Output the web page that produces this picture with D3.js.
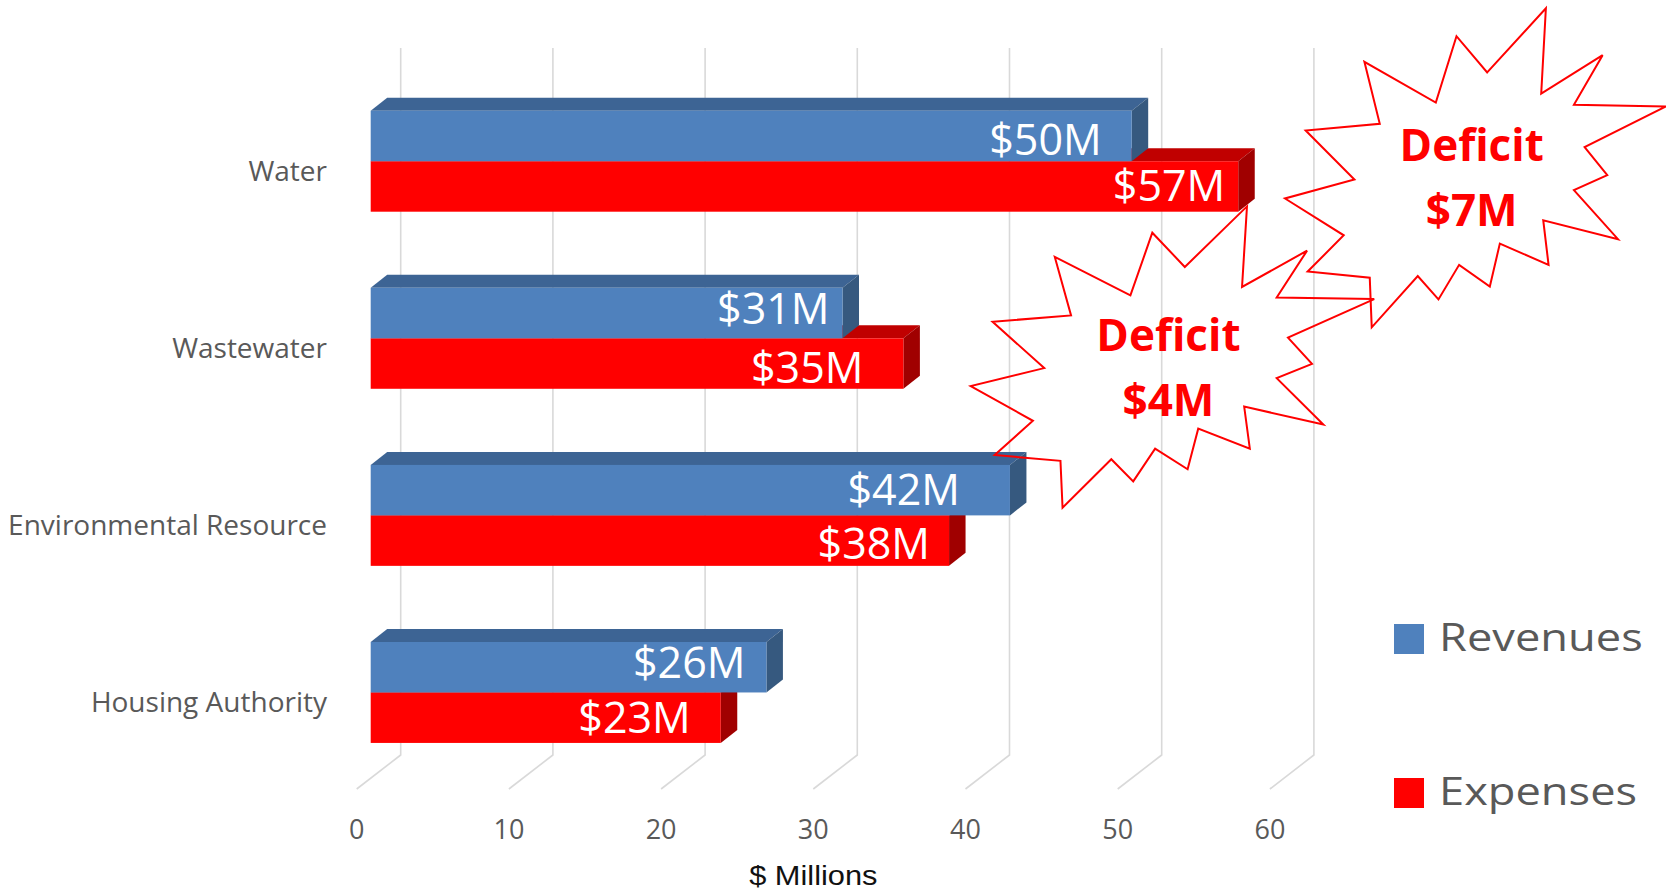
<!DOCTYPE html>
<html lang="en">
<head>
  <meta charset="UTF-8">
  <title>Revenues vs Expenses</title>
  <script src="https://d3js.org/d3.v7.min.js"></script>
  <style>
    body { margin: 0; background: #fff; }
    svg { display: block; }
    text { font-family: "Open Sans", sans-serif; }
  </style>
</head>
<body>
  <svg width="1666" height="892"></svg>

  <script>
    // chart data
    const categories = ["Water", "Wastewater", "Environmental Resource", "Housing Authority"];
    const seriesNames = ["Revenues", "Expenses"];
    const revenues = [50, 31, 42, 26];
    const expenses = [57, 35, 38, 23];
    const xTicks = [0, 10, 20, 30, 40, 50, 60];
    const deficitCats = ["Wastewater", "Water"];
    const deficitValues = [4, 7];

    // hand-placed value labels: gap from bar end, vertical nudge (px)
    const labelInset = { Revenues: [30, 13, 50, 21], Expenses: [13, 40, 19, 30] };
    const labelNudge = { Revenues: [4, -4, 0, -4], Expenses: [0, 4, 3, 0] };

    const svg = d3.select("svg");

    const colors = {
      Revenues: { front: "#4F81BD", top: "#3D6494", side: "#36597F" },
      Expenses: { front: "#FF0000", top: "#C00000", side: "#A00000" }
    };

    // front plane of the bars
    const x = d3.scaleLinear().domain([0, 60]).range([370.7, 1283.9]);
    const y = d3.scaleBand().domain(categories).range([72.7, 781])
      .paddingInner(0.43).paddingOuter(0.215);
    const ySub = d3.scaleBand().domain(seriesNames).range([0, y.bandwidth()]);

    const DX = 16.5, DY = 13;        // bar depth
    const BACK = 30, FLOOR = -14;    // back wall / floor front offsets
    const wallTop = 48, wallBottom = 755, floorFront = 789;

    // gridlines: back wall + floor
    svg.append("g").selectAll("path")
      .data(xTicks)
      .join("path")
      .attr("d", t => d3.line()([
        [x(t) + BACK, wallTop], [x(t) + BACK, wallBottom], [x(t) + FLOOR, floorFront]
      ]))
      .attr("fill", "none")
      .attr("stroke", "#D9D9D9")
      .attr("stroke-width", 1.6);

    svg.append("g").selectAll("text")
      .data(xTicks)
      .join("text")
      .attr("x", t => x(t) + FLOOR)
      .attr("y", 839)
      .attr("text-anchor", "middle")
      .attr("font-size", 27)
      .attr("fill", "#595959")
      .text(t => t);

    svg.append("text")
      .attr("transform", `translate(${x(30) + FLOOR},885) scale(1.1,1)`)
      .attr("text-anchor", "middle")
      .style("font-family", "'Liberation Sans', Arial, sans-serif")
      .attr("font-size", 28)
      .attr("fill", "#111")
      .text("$ Millions");

    // 3D bars, expenses first so revenues sit on top of them
    const bars = [];
    categories.forEach((c, i) => {
      bars.push({ cat: c, i: i, s: "Expenses", v: expenses[i] });
      bars.push({ cat: c, i: i, s: "Revenues", v: revenues[i] });
    });

    const barG = svg.append("g").selectAll("g")
      .data(bars)
      .join("g");

    barG.each(function(d) {
      const g = d3.select(this);
      const y0 = y(d.cat) + ySub(d.s), y1 = y0 + ySub.bandwidth();
      const x0 = x(0), x1 = x(d.v);
      g.append("path")
        .attr("d", d3.line()([[x0, y0], [x0 + DX, y0 - DY], [x1 + DX, y0 - DY], [x1, y0]]) + "Z")
        .attr("fill", colors[d.s].top);
      g.append("path")
        .attr("d", d3.line()([[x1, y0], [x1 + DX, y0 - DY], [x1 + DX, y1 - DY], [x1, y1]]) + "Z")
        .attr("fill", colors[d.s].side);
      g.append("rect")
        .attr("x", x0).attr("y", y0)
        .attr("width", x1 - x0).attr("height", y1 - y0)
        .attr("fill", colors[d.s].front);
    });

    // value labels
    svg.append("g").selectAll("text")
      .data(bars)
      .join("text")
      .attr("x", d => x(d.v) - labelInset[d.s][d.i])
      .attr("y", d => y(d.cat) + ySub(d.s) + ySub.bandwidth() / 2 + 15 + labelNudge[d.s][d.i])
      .attr("text-anchor", "end")
      .attr("font-size", 43)
      .attr("fill", "#fff")
      .text(d => "$" + d.v + "M");

    // category labels
    svg.append("g").selectAll("text")
      .data(categories)
      .join("text")
      .attr("x", 327)
      .attr("y", d => y(d) + y.bandwidth() / 2 + 19.5)
      .attr("text-anchor", "end")
      .attr("font-size", 28)
      .attr("fill", "#595959")
      .text(d => d);

    // Explosion 2 shape, in 21600 units
    const seal = [
      [11462, 4342], [14790, 0], [14525, 5777], [18007, 3172], [16380, 6532],
      [21600, 6645], [16985, 9402], [18270, 11290], [16380, 12310], [18877, 15632],
      [14640, 14350], [14942, 17370], [12180, 15935], [11612, 18842], [9872, 17370],
      [8700, 19712], [7527, 18125], [4917, 21600], [4805, 18240], [1285, 17825],
      [3330, 15370], [0, 12877], [3935, 11592], [1172, 8270], [5372, 7817],
      [4502, 3625], [8550, 6382], [9722, 1887]
    ];
    const burstBoxes = [
      { x0: 970.7, y0: 206.4, w: 403.5, h: 301.3 },
      { x0: 1285, y0: 8.3, w: 381, h: 319 }
    ];

    deficitCats.forEach((c, i) => {
      const b = burstBoxes[i];
      const sx = d3.scaleLinear().domain([0, 21600]).range([b.x0, b.x0 + b.w]);
      const sy = d3.scaleLinear().domain([0, 21600]).range([b.y0, b.y0 + b.h]);
      const g = svg.append("g").attr("class", "burst");
      g.append("path")
        .attr("d", d3.line().x(p => sx(p[0])).y(p => sy(p[1])).curve(d3.curveLinearClosed)(seal))
        .attr("fill", "none")
        .attr("stroke", "#FF0000")
        .attr("stroke-width", 2);
      const cx = b.x0 + b.w * 0.49, by = b.y0 + b.h * 0.48;
      g.append("text")
        .attr("x", cx).attr("y", by)
        .attr("text-anchor", "middle")
        .attr("font-size", 44).attr("font-weight", 700)
        .attr("fill", "#FF0000")
        .text("Deficit");
      g.append("text")
        .attr("x", cx).attr("y", by + 65)
        .attr("text-anchor", "middle")
        .attr("font-size", 44).attr("font-weight", 700)
        .attr("fill", "#FF0000")
        .text("$" + deficitValues[i] + "M");
    });

    // legend
    const legend = svg.append("g").selectAll("g")
      .data(seriesNames)
      .join("g")
      .attr("transform", (d, i) => `translate(1394,${624 + i * 154})`);
    legend.append("rect")
      .attr("width", 30).attr("height", 30)
      .attr("fill", d => colors[d].front);
    legend.append("text")
      .attr("transform", "translate(45,27) scale(1.16,1)")
      .attr("font-size", 39)
      .attr("fill", "#595959")
      .text(d => d);
  </script>
</body>
</html>
